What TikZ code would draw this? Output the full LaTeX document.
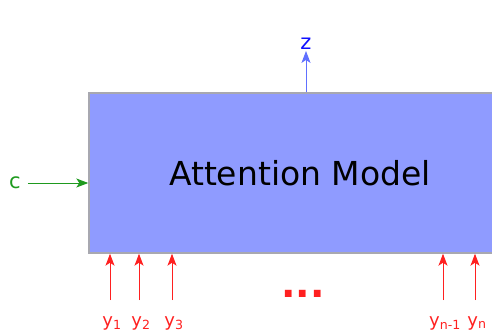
\documentclass[tikz,border=0pt]{standalone}
\usepackage{fontspec}
\setmainfont{DejaVu Sans}
\usepackage{xcolor}
\usetikzlibrary{arrows.meta,positioning,calc}

\definecolor{boxfill}{HTML}{8F9BFF}
\definecolor{boxline}{HTML}{A8A8B0}
\definecolor{inred}{HTML}{FF2020}
\definecolor{ctxgreen}{HTML}{1E9A1E}
\definecolor{outblue}{HTML}{1010FF}
\definecolor{outline}{HTML}{6070FF}

\begin{document}
\begin{tikzpicture}[x=1pt,y=-1pt]
\tikzstyle{model}=[draw=boxline,line width=1.4pt,fill=boxfill,minimum width=422pt,minimum height=160pt,font=\fontsize{33}{40}\selectfont]
\tikzstyle{lab}=[inner sep=1pt,font=\fontsize{21}{24}\selectfont]
\tikzstyle{arr}=[line width=1pt,-{Stealth[length=12pt,width=9pt,inset=3pt]}]

\useasboundingbox (0,0) rectangle (492,333);

\node[model] (am) at (300,173) {Attention Model};

% context input
\node[lab,text=ctxgreen,anchor=west] (c) at (8,183) {c};
\draw[arr,ctxgreen] (c.east) ++(6pt,0) -- (am.west |- c.east);

% output
\node[lab,text=outblue] (z) at (306,44) {z};
\draw[arr,outline] (am.north -| z) -- (z.south);

% inputs y_1 ... y_n
\foreach \x/\lab [count=\i] in {110/1,139/2,172/3,443/{n-1},475/n}{
  \node[lab,text=inred,anchor=base,font=\fontsize{18}{20}\selectfont] (y\i) at (\x+2,326) {y\textsubscript{\lab}};
  \coordinate (s\i) at (\x,300);
  \draw[arr,inred] (s\i) -- (am.south -| s\i);
}
\node[text=inred,font=\bfseries\fontsize{38}{40}\selectfont] (dots) at (303,294) {...};
\end{tikzpicture}
\end{document}
